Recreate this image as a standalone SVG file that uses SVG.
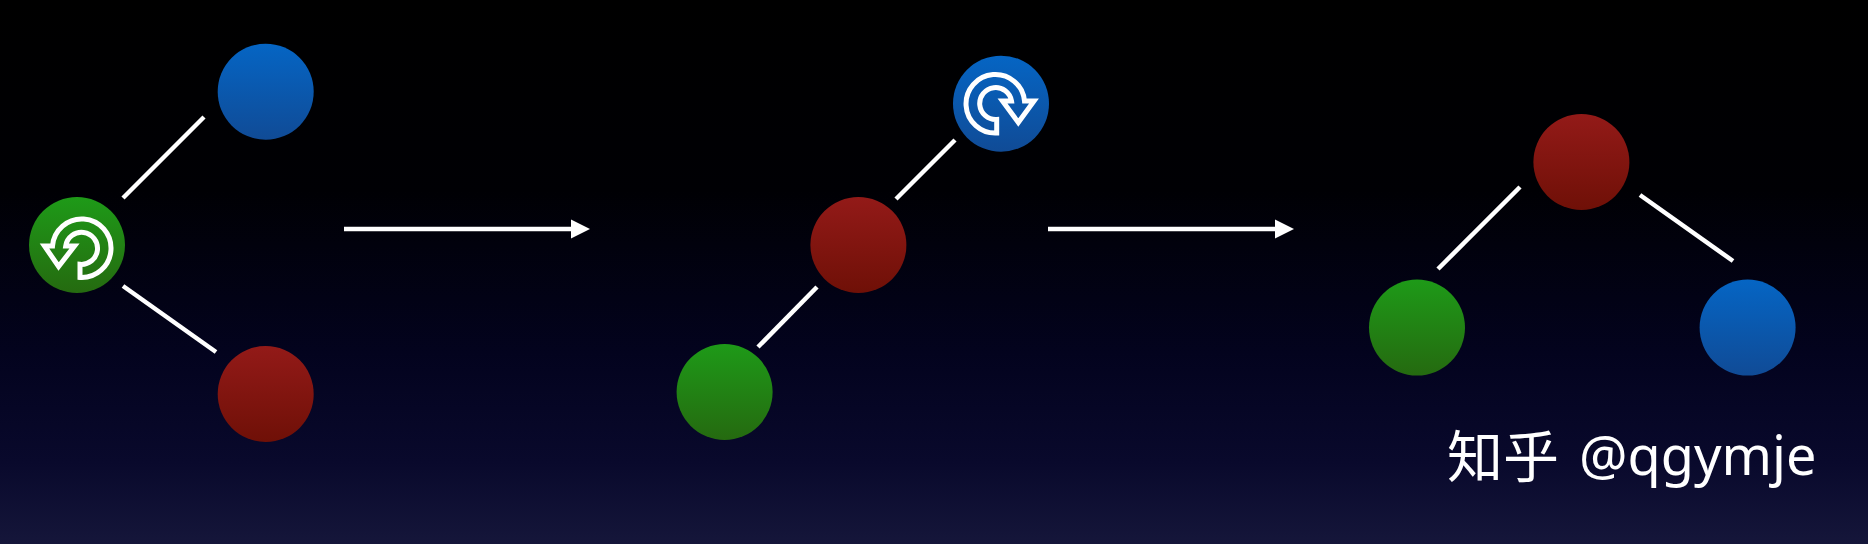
<svg xmlns="http://www.w3.org/2000/svg" width="1868" height="544" viewBox="0 0 1868 544">
<style>
.link{stroke:#fff;stroke-width:4.5;fill:none}
.icon{stroke:#fff;stroke-width:5;fill:none;stroke-linejoin:miter}
.g{fill:url(#gg)}.b{fill:url(#gb)}.r{fill:url(#gr)}
text{fill:#fff}
.zh{font-family:"Noto Sans CJK SC",sans-serif;font-size:56px;font-weight:400}
.la{font-family:"Noto Sans",sans-serif;font-size:54px;font-weight:400}
</style>
<defs>
<linearGradient id="bg" x1="0" y1="0" x2="0" y2="1"><stop offset="0" stop-color="#000"/><stop offset="0.35" stop-color="#000004"/><stop offset="0.65" stop-color="#03031e"/><stop offset="0.85" stop-color="#09092c"/><stop offset="1" stop-color="#15163a"/></linearGradient>
<linearGradient id="gg" x1="0" y1="0" x2="0" y2="1"><stop offset="0" stop-color="#1e9a18"/><stop offset="1" stop-color="#256a10"/></linearGradient>
<linearGradient id="gb" x1="0" y1="0" x2="0" y2="1"><stop offset="0" stop-color="#0565c4"/><stop offset="1" stop-color="#104b96"/></linearGradient>
<linearGradient id="gr" x1="0" y1="0" x2="0" y2="1"><stop offset="0" stop-color="#931a18"/><stop offset="1" stop-color="#6f1007"/></linearGradient>
<marker id="ah" markerUnits="userSpaceOnUse" markerWidth="20" markerHeight="20" refX="1" refY="10" orient="auto"><path d="M0 0.5L19 10L0 19.5Z" fill="#fff"/></marker>
</defs>
<rect id="background" width="1868" height="544" fill="url(#bg)"/>
<g id="connectors">
<line class="link" x1="123" y1="198" x2="204" y2="117"/>
<line class="link" x1="123" y1="286" x2="216" y2="352"/>
<line class="link" x1="896" y1="199" x2="955" y2="140"/>
<line class="link" x1="758" y1="347" x2="817" y2="287"/>
<line class="link" x1="1438" y1="269" x2="1520" y2="187"/>
<line class="link" x1="1640" y1="195" x2="1733" y2="261"/>
<line class="link" x1="344" y1="229" x2="572" y2="229" marker-end="url(#ah)"/>
<line class="link" x1="1048" y1="229" x2="1276" y2="229" marker-end="url(#ah)"/>
</g>
<g id="node-a-green"><circle class="g" cx="77" cy="245" r="48"/><path class="icon" d="M80 277.5V264.3A16 16 0 1 0 65.7 246H74.5L58.6 266.5L44.5 246H52.5A29.3 29.3 0 1 1 80 277.5Z"/></g>
<g id="node-a-blue"><circle class="b" cx="265.7" cy="91.7" r="48"/></g>
<g id="node-a-red"><circle class="r" cx="265.7" cy="394" r="48"/></g>
<g id="node-b-blue"><circle class="b" cx="1001" cy="103.7" r="48"/><path class="icon" d="M996.7 133V119.5A16 16 0 1 1 1011.5 101H1002.5L1018.3 122.5L1034 101H1024.5A29.3 29.3 0 1 0 996.7 133Z"/></g>
<g id="node-b-red"><circle class="r" cx="858.4" cy="245" r="48"/></g>
<g id="node-b-green"><circle class="g" cx="724.6" cy="392" r="48"/></g>
<g id="node-c-red"><circle class="r" cx="1581.4" cy="162" r="48"/></g>
<g id="node-c-green"><circle class="g" cx="1417" cy="327.6" r="48"/></g>
<g id="node-c-blue"><circle class="b" cx="1747.6" cy="327.6" r="48"/></g>
<text id="watermark" y="475"><tspan class="zh" x="1447" y="477">知乎 </tspan><tspan class="la" x="1579" y="475">@qgymje</tspan></text>
</svg>
